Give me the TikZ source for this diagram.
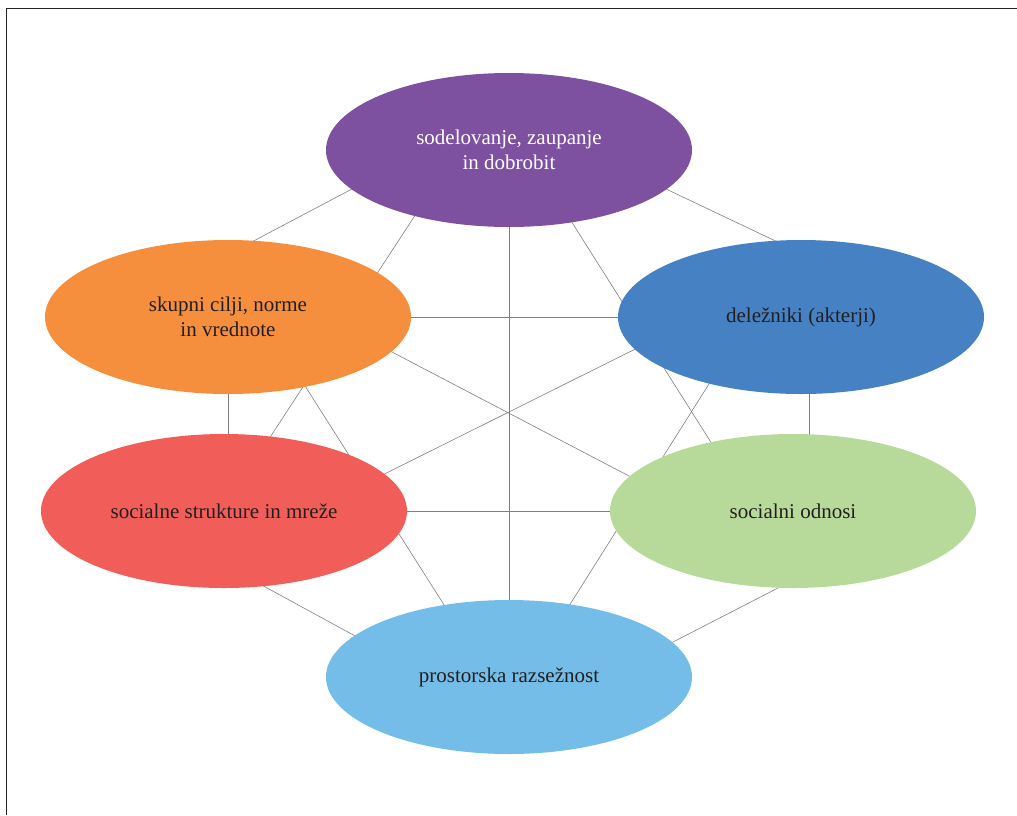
\documentclass[tikz,border=0pt]{standalone}
\usepackage{fontspec}
\setmainfont{Liberation Serif}
\usetikzlibrary{shapes.geometric,backgrounds}
\definecolor{vijolicna}{RGB}{126,80,160}
\definecolor{oranzna}{RGB}{245,143,62}
\definecolor{modra}{RGB}{69,129,195}
\definecolor{rdeca}{RGB}{241,94,90}
\definecolor{zelena}{RGB}{183,218,155}
\definecolor{svetlomodra}{RGB}{116,189,232}
\definecolor{besedilo}{RGB}{35,31,32}
\definecolor{crta}{RGB}{128,128,128}

\begin{document}
\begin{tikzpicture}[x=1pt, y=-1pt]
    \tikzstyle{bubble}=[ellipse,minimum width=366pt,minimum height=154pt,inner sep=0pt,align=center,text=besedilo,font=\fontsize{21}{25}\selectfont]
    \tikzstyle{link}=[draw=crta,line width=0.6pt,shorten <=-5pt,shorten >=-5pt]
    \useasboundingbox (0,0) rectangle (1017,815);
    \draw[line width=1pt,draw=black!85] (6.5,815) -- (6.5,8) -- (1017,8);
    % the six bubbles
    \node[bubble,fill=vijolicna,text=white] (sod) at (509,150) {sodelovanje, zaupanje\\in dobrobit};
    \node[bubble,fill=oranzna] (cilji) at (228,317) {skupni cilji, norme\\in vrednote};
    \node[bubble,fill=modra] (akt) at (801,317) {deležniki (akterji)};
    \node[bubble,fill=rdeca] (mre) at (224,511) {socialne strukture in mreže};
    \node[bubble,fill=zelena] (odn) at (793,511) {socialni odnosi};
    \node[bubble,fill=svetlomodra] (pros) at (509,677) {prostorska razsežnost};
    % every pair is linked, behind the bubbles
    \begin{scope}[on background layer]
      \draw[link] (sod.194) -- (cilji.71);
      \draw[link] (sod.346) -- (akt.109);
      \draw[link] (sod.south) -- (pros.north);
      \draw[link] (sod.215) -- (mre.58);
      \draw[link] (sod.311) -- (odn.140);
      \draw[link] (cilji.east) -- (akt.west);
      \draw[link] (cilji.south) -- (cilji.south |- mre.north);
      \draw[link] (cilji.348) -- (odn.168);
      \draw[link] (cilji.318) -- (pros.132);
      \draw[link] (akt.191) -- (mre.13);
      \draw[link] ([xshift=8pt]akt.south) -- ([xshift=8pt]akt.south |- odn.north);
      \draw[link] (akt.216) -- (pros.50);
      \draw[link] (mre.east) -- (odn.west);
      \draw[link] (mre.298) -- (pros.165);
      \draw[link] (odn.259) -- (pros.12);
    \end{scope}
  \end{tikzpicture}
\end{document}
